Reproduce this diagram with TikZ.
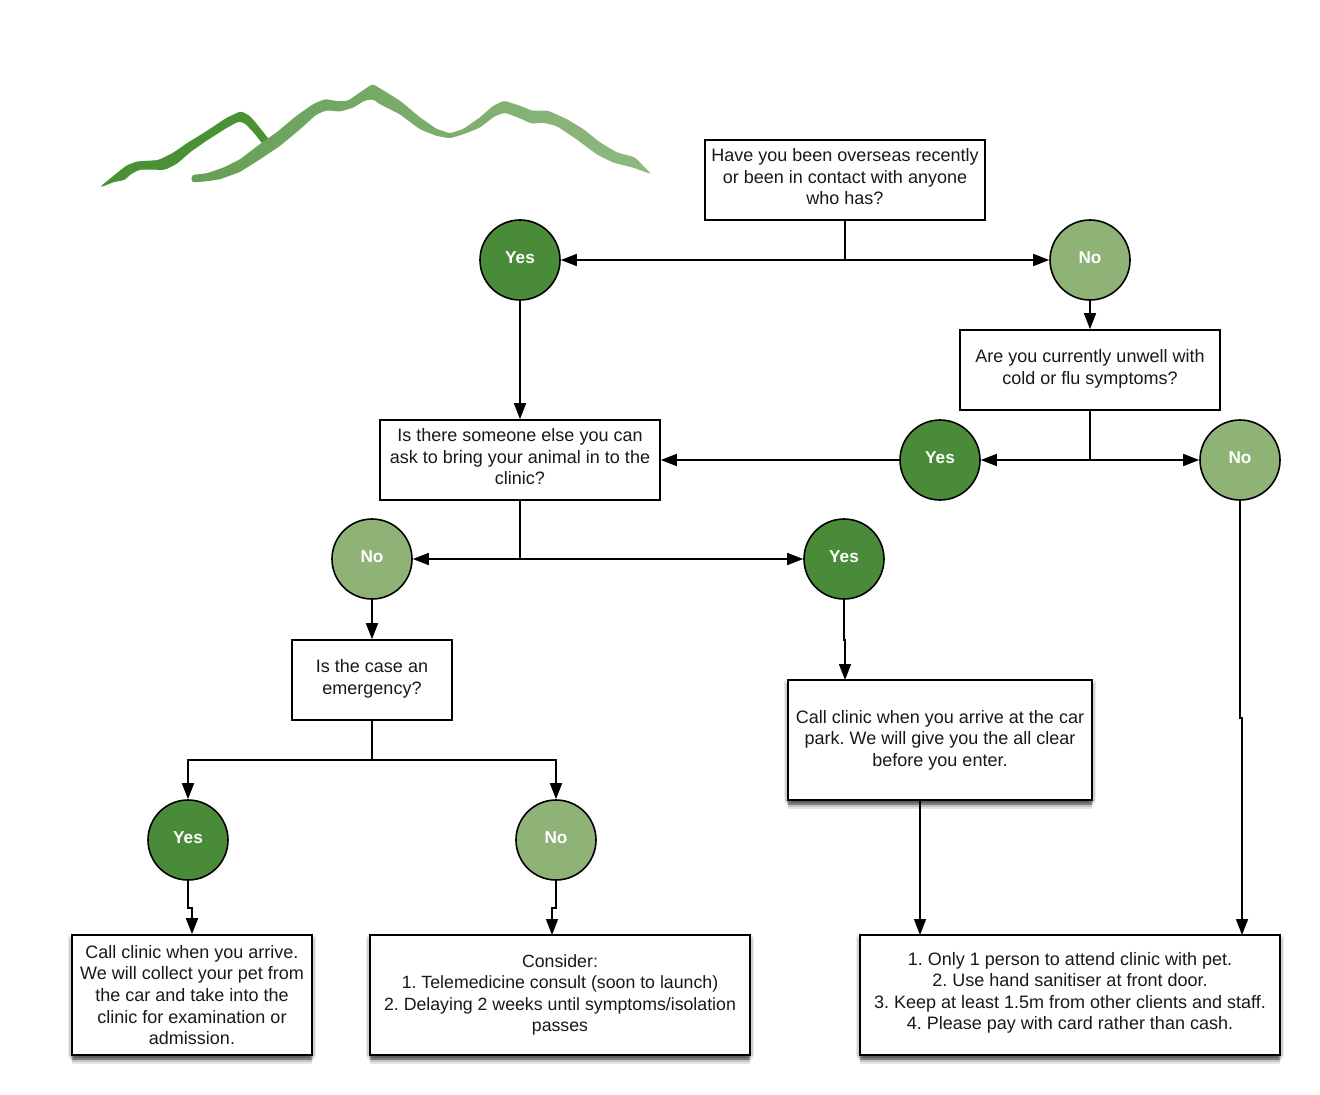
\documentclass[tikz,border=0pt]{standalone}
\usepackage{fontspec}
\setmainfont{Liberation Sans}
\usetikzlibrary{arrows.meta,shadows}
\definecolor{darkgreen}{HTML}{4A8B3A}
\definecolor{lightgreen}{HTML}{8FB277}
\definecolor{ridgedark}{HTML}{4A9136}
\definecolor{ridgemid}{HTML}{669F56}
\definecolor{ridgelight}{HTML}{90B980}
\tikzset{
	question/.style={draw=black, line width=1.2pt, fill=white, align=center, inner sep=0pt, text=black!90, font=\fontsize{13.5}{16.2}\selectfont\frenchspacing},
	softshadow/.style={drop shadow={shadow xshift=-3.2pt, shadow yshift=-.5pt, opacity=.07, fill=black},
		drop shadow={shadow xshift=3.2pt, shadow yshift=-.5pt, opacity=.07, fill=black},
		drop shadow={shadow xshift=-2.2pt, shadow yshift=-2pt, opacity=.12, fill=black},
		drop shadow={shadow xshift=2.2pt, shadow yshift=-2pt, opacity=.12, fill=black},
		drop shadow={shadow xshift=-1pt, shadow yshift=-3.5pt, opacity=.2, fill=black},
		drop shadow={shadow xshift=1pt, shadow yshift=-3.5pt, opacity=.2, fill=black},
		drop shadow={shadow xshift=0pt, shadow yshift=-5pt, opacity=.14, fill=black},
		drop shadow={shadow xshift=0pt, shadow yshift=-6.5pt, opacity=.1, fill=black}},
	answer/.style={circle, draw=black, line width=1.2pt, minimum size=60pt, inner sep=0pt, text=white, font=\fontsize{12.9}{15}\selectfont\bfseries, text depth=4pt},
	yes/.style={answer, fill=darkgreen},
	no/.style={answer, fill=lightgreen},
	link/.style={draw=black, line width=1.2pt, -{Triangle[length=12pt, width=9pt]}},
	stem/.style={draw=black, line width=1.2pt}
}
\begin{document}
\begin{tikzpicture}[x=.75pt, y=-.75pt]
	\useasboundingbox (0,0) rectangle (1320,1095);
	% logo
	\begin{scope}[shift={(90,70)}, scale=.3333, rounded corners=2pt]
		\filldraw[draw=ridgedark, fill=ridgedark, line width=.8pt] (33,350)--(70,320)--(110,288)--(140,276)--(205,272)--(250,250)--(290,222)--(350,185)--(410,145)--(453,125)--(480,140)--(505,170)--(538,212)--(520,222)--(495,190)--(465,158)--(445,153)--(410,172)--(350,210)--(300,245)--(260,280)--(225,298)--(150,297)--(120,312)--(105,328)--(70,335)--cycle;
		\shade[left color=ridgemid, middle color=ridgemid, right color=ridgelight] (305,315)--(350,310)--(400,293)--(450,268)--(510,222)--(560,187)--(620,137)--(670,102)--(705,87)--(745,94)--(775,92)--(810,67)--(848,42)--(870,55)--(930,92)--(990,142)--(1040,177)--(1080,190)--(1120,177)--(1170,142)--(1210,107)--(1242,92)--(1290,107)--(1325,122)--(1375,122)--(1430,147)--(1480,177)--(1530,217)--(1580,247)--(1635,262)--(1685,313)--(1630,293)--(1570,278)--(1520,253)--(1460,208)--(1400,168)--(1360,158)--(1325,161)--(1285,143)--(1245,128)--(1215,138)--(1170,173)--(1120,193)--(1080,205)--(1040,198)--(990,178)--(930,133)--(870,103)--(850,88)--(825,91)--(790,113)--(750,125)--(710,121)--(680,133)--(630,178)--(570,228)--(510,268)--(450,306)--(390,328)--(340,335)--(305,337)--cycle;
	\end{scope}
	% questions
	\node[question, minimum width=210pt, minimum height=60pt, text depth=5pt] (overseas) at (845,180) {Have you been overseas recently\\or been in contact with anyone\\who has?};
	\node[question, minimum width=195pt, minimum height=60pt, text depth=4.5pt] (unwell) at (1090,370) {Are you currently unwell with\\cold or flu symptoms?};
	\node[question, minimum width=210pt, minimum height=60pt, text depth=5pt] (someone) at (520,460) {Is there someone else you can\\ask to bring your animal in to the\\clinic?};
	\node[question, minimum width=120pt, minimum height=60pt, text depth=4.5pt] (emergency) at (372,680) {Is the case an\\emergency?};
	\node[question, softshadow, minimum width=228pt, minimum height=90pt] (carpark) at (940,740) {Call clinic when you arrive at the car\\park. We will give you the all clear\\before you enter.};
	\node[question, softshadow, minimum width=180pt, minimum height=90pt] (collect) at (192,995) {Call clinic when you arrive.\\We will collect your pet from\\the car and take into the\\clinic for examination or\\admission.};
	\node[question, softshadow, minimum width=285pt, minimum height=90pt, font=\fontsize{13.3}{16.2}\selectfont\frenchspacing] (consider) at (560,995) {Consider:\\1. Telemedicine consult (soon to launch)\\2. Delaying 2 weeks until symptoms/isolation\\passes};
	\node[question, softshadow, minimum width=315pt, minimum height=90pt, text depth=6pt] (rules) at (1070,995) {1. Only 1 person to attend clinic with pet.\\2. Use hand sanitiser at front door.\\3. Keep at least 1.5m from other clients and staff.\\4. Please pay with card rather than cash.};
	% answers
	\node[yes] (yesa) at (520,260) {Yes};
	\node[no] (noa) at (1090,260) {No};
	\node[yes] (yesb) at (940,460) {Yes};
	\node[no] (nob) at (1240,460) {No};
	\node[no] (noc) at (372,559) {No};
	\node[yes] (yesc) at (844,559) {Yes};
	\node[yes] (yesd) at (188,840) {Yes};
	\node[no] (nod) at (556,840) {No};
	% junctions
	\coordinate (joina) at (845,260);
	\coordinate (joinb) at (1090,460);
	\coordinate (joinc) at (520,559);
	\coordinate (joind) at (372,760);
	\coordinate (bendyes) at (188,908);
	\coordinate (bendno) at (556,908);
	\coordinate (bendcar) at (844,640);
	\coordinate (bendright) at (1240,718);
	\coordinate (carout) at (920,800);
	\coordinate (carin) at (920,935);
	\coordinate (rightin) at (1242,935);
	\coordinate (nodin) at (552,935);
	\coordinate (caron) at (845,680);
	% connectors
	\draw[stem] (overseas.south) -- (joina);
	\draw[link] (joina) -- (yesa.east);
	\draw[link] (joina) -- (noa.west);
	\draw[link] (noa.south) -- (unwell.north);
	\draw[link] (yesa.south) -- (someone.north);
	\draw[stem] (unwell.south) -- (joinb);
	\draw[link] (joinb) -- (yesb.east);
	\draw[link] (joinb) -- (nob.west);
	\draw[link] (yesb.west) -- (someone.east);
	\draw[stem] (someone.south) -- (joinc);
	\draw[link] (joinc) -- (noc.east);
	\draw[link] (joinc) -- (yesc.west);
	\draw[link] (noc.south) -- (emergency.north);
	\draw[stem] (emergency.south) -- (joind);
	\draw[link] (joind) -| (yesd.north);
	\draw[link] (joind) -| (nod.north);
	\draw[link] (yesd.south) -- (bendyes) -| (collect.north);
	\draw[link] (nod.south) -- (bendno) -| (nodin);
	\draw[link] (yesc.south) -- (bendcar) -| (caron);
	\draw[link] (carout) -- (carin);
	\draw[link] (nob.south) -- (bendright) -| (rightin);
\end{tikzpicture}
\end{document}
